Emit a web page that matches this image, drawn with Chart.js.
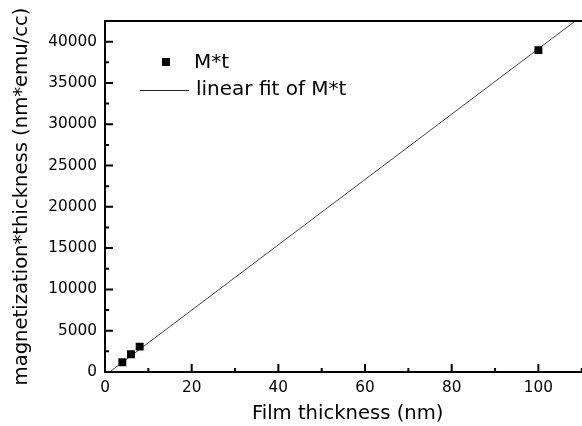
<!DOCTYPE html>
<html>
<head>
<meta charset="utf-8">
<script src="https://cdn.jsdelivr.net/npm/chart.js@4"></script>
<style>
  html, body { margin: 0; padding: 0; background: #fff; overflow: hidden; }
  #chart { display: block; }
</style>
</head>
<body>
<canvas id="chart" width="596" height="426"></canvas>
<script>
const FONT = "'DejaVu Sans', sans-serif";

// measured points
const thicknessNm = [4, 6, 8, 100];
const momentThickness = [1180, 2150, 3070, 38970];

// linear fit end points
const fitX = [0, 112];
const fitY = [-420, 43880];

const xTickValues = [0, 20, 40, 60, 80, 100];
const xMinorValues = [10, 30, 50, 70, 90, 110];
const yTickValues = [0, 5000, 10000, 15000, 20000, 25000, 30000, 35000, 40000];
const yMinorValues = [2500, 7500, 12500, 17500, 22500, 27500, 32500, 37500];

const legendLabels = ['M*t', 'linear fit of M*t'];

// ticks point inwards, plus the top frame line and the in-plot legend
const frameAndTicks = {
  id: 'frameAndTicks',
  afterDraw(chart) {
    const { ctx, chartArea: a, scales: { x, y } } = chart;
    ctx.save();
    ctx.strokeStyle = '#000';
    ctx.lineWidth = 2;
    ctx.beginPath();
    ctx.moveTo(a.left, a.top);
    ctx.lineTo(chart.width, a.top);
    ctx.stroke();

    ctx.beginPath();
    xTickValues.forEach(v => { const px = x.getPixelForValue(v); ctx.moveTo(px, a.bottom); ctx.lineTo(px, a.bottom - 8); });
    xMinorValues.forEach(v => { const px = x.getPixelForValue(v); ctx.moveTo(px, a.bottom); ctx.lineTo(px, a.bottom - 4); });
    yTickValues.forEach(v => { const py = y.getPixelForValue(v); ctx.moveTo(a.left, py); ctx.lineTo(a.left + 8, py); });
    yMinorValues.forEach(v => { const py = y.getPixelForValue(v); ctx.moveTo(a.left, py); ctx.lineTo(a.left + 4, py); });
    ctx.stroke();

    // legend
    const lx = a.left, ly = a.top;
    ctx.fillStyle = '#000';
    ctx.fillRect(lx + 57, ly + 37, 8, 8);
    ctx.lineWidth = 1;
    ctx.strokeStyle = '#222';
    ctx.beginPath();
    ctx.moveTo(lx + 35, ly + 69.5);
    ctx.lineTo(lx + 84, ly + 69.5);
    ctx.stroke();
    ctx.font = '20px ' + FONT;
    ctx.textBaseline = 'middle';
    ctx.textAlign = 'left';
    ctx.fillText(legendLabels[0], lx + 89, ly + 42);
    ctx.fillText(legendLabels[1], lx + 91, ly + 69);
    ctx.restore();
  }
};

new Chart(document.getElementById('chart'), {
  type: 'scatter',
  data: {
    datasets: [
      {
        label: legendLabels[0],
        data: thicknessNm.map((t, i) => ({ x: t, y: momentThickness[i] })),
        pointStyle: 'rect',
        pointRadius: 5.6,
        backgroundColor: '#000',
        borderWidth: 0,
        order: 0,
      },
      {
        label: legendLabels[1],
        data: fitX.map((t, i) => ({ x: t, y: fitY[i] })),
        showLine: true,
        borderColor: '#444',
        borderWidth: 1,
        pointRadius: 0,
        order: 1,
      },
    ],
  },
  options: {
    responsive: false,
    animation: false,
    layout: { padding: { top: 21, left: 0, right: 0, bottom: 0 } },
    plugins: { legend: { display: false }, tooltip: { enabled: false } },
    scales: {
      x: {
        type: 'linear',
        min: 0,
        max: 112,
        grid: { display: false, drawTicks: false },
        border: { display: true, color: '#000', width: 2 },
        ticks: {
          color: '#000',
          padding: 7,
          maxRotation: 0,
          font: { family: FONT, size: 15.3 },
          callback: v => String(v),
        },
        afterBuildTicks: s => { s.ticks = xTickValues.map(v => ({ value: v })); },
        afterFit: s => { s.height = 54; s.paddingLeft = 0; s.paddingRight = 0; },
        title: {
          display: true,
          text: 'Film thickness (nm)',
          color: '#000',
          font: { family: FONT, size: 19.6 },
          padding: { top: 0, bottom: 0 },
        },
      },
      y: {
        type: 'linear',
        min: 0,
        max: 42500,
        grid: { display: false, drawTicks: false },
        border: { display: true, color: '#000', width: 2 },
        ticks: {
          color: '#000',
          padding: 8,
          font: { family: FONT, size: 15.3 },
          callback: v => String(v),
        },
        afterBuildTicks: s => { s.ticks = yTickValues.map(v => ({ value: v })); },
        afterFit: s => { s.width = 105; s.paddingTop = 0; s.paddingBottom = 0; },
        title: {
          display: true,
          text: 'magnetization*thickness (nm*emu/cc)',
          color: '#000',
          font: { family: FONT, size: 19.6 },
          padding: { top: 10, bottom: 0 },
        },
      },
    },
  },
  plugins: [frameAndTicks],
});
</script>
</body>
</html>
